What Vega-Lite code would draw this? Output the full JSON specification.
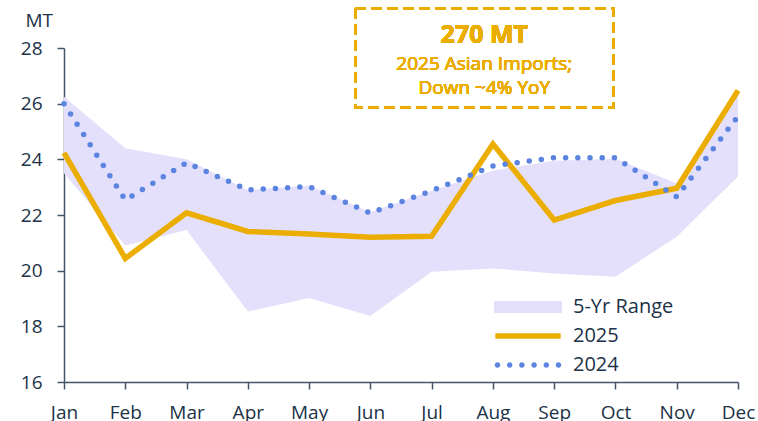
{
  "$schema": "https://vega.github.io/schema/vega-lite/v6.json",
  "autosize": "none",
  "width": 674,
  "height": 334,
  "padding": {"left": 64, "top": 48, "right": 20, "bottom": 39},
  "background": "white",
  "config": {
    "view": {"stroke": null},
    "font": "Open Sans",
    "axis": {
      "grid": false,
      "domainColor": "#44546A",
      "tickColor": "#44546A",
      "domainWidth": 1.5,
      "tickWidth": 1.5,
      "tickSize": 7,
      "labelFont": "Open Sans",
      "labelFontSize": 19,
      "labelColor": "#203247",
      "titleFont": "Open Sans",
      "titleColor": "#203247"
    },
    "legend": {
      "labelFont": "Open Sans",
      "labelFontSize": 20,
      "labelColor": "#203247"
    }
  },
  "data": {
    "values": [
      {"m": 1, "lo": 23.5, "hi": 26.25, "y2025": 24.23, "y2024": 26.0},
      {"m": 2, "lo": 20.9, "hi": 24.4, "y2025": 20.44, "y2024": 22.54},
      {"m": 3, "lo": 21.46, "hi": 24.0, "y2025": 22.08, "y2024": 23.88},
      {"m": 4, "lo": 18.53, "hi": 22.9, "y2025": 21.41, "y2024": 22.9},
      {"m": 5, "lo": 19.02, "hi": 23.05, "y2025": 21.32, "y2024": 23.02},
      {"m": 6, "lo": 18.37, "hi": 22.1, "y2025": 21.2, "y2024": 22.07},
      {"m": 7, "lo": 19.96, "hi": 22.87, "y2025": 21.24, "y2024": 22.87},
      {"m": 8, "lo": 20.08, "hi": 23.6, "y2025": 24.55, "y2024": 23.76},
      {"m": 9, "lo": 19.9, "hi": 23.95, "y2025": 21.82, "y2024": 24.06},
      {"m": 10, "lo": 19.78, "hi": 24.02, "y2025": 22.52, "y2024": 24.06},
      {"m": 11, "lo": 21.22, "hi": 23.14, "y2025": 22.96, "y2024": 22.65},
      {"m": 12, "lo": 23.38, "hi": 26.47, "y2025": 26.47, "y2024": 25.55}
    ]
  },
  "encoding": {
    "x": {
      "field": "m",
      "type": "quantitative",
      "scale": {"domain": [1, 12], "nice": false, "zero": false},
      "axis": {
        "title": null,
        "values": [1, 2, 3, 4, 5, 6, 7, 8, 9, 10, 11, 12],
        "labelExpr": "['Jan','Feb','Mar','Apr','May','Jun','Jul','Aug','Sep','Oct','Nov','Dec'][datum.value - 1]",
        "labelPadding": 14,
        "labelFlush": false,
        "labelOverlap": false
      }
    }
  },
  "layer": [
    {
      "mark": {"type": "area", "opacity": 1},
      "encoding": {
        "y": {
          "field": "lo",
          "type": "quantitative",
          "scale": {"domain": [16, 28], "nice": false, "zero": false},
          "axis": {
            "values": [16, 18, 20, 22, 24, 26, 28],
            "title": "MT",
            "titleAngle": 0,
            "titleAlign": "left",
            "titleBaseline": "alphabetic",
            "titleX": -39,
            "titleY": -22,
            "titleFontSize": 19,
            "titleFontWeight": "normal",
            "labelPadding": 15
          }
        },
        "y2": {"field": "hi"},
        "color": {
          "datum": "5-Yr Range",
          "type": "nominal",
          "scale": {
            "domain": ["5-Yr Range", "2025", "2024"],
            "range": ["#E4E0FC", "#EAAD00", "#5B84E0"]
          },
          "legend": {
            "title": null,
            "orient": "none",
            "legendX": 454,
            "legendY": 249,
            "symbolSize": 185,
            "labelOffset": 35,
            "rowPadding": 8,
            "symbolType": {"expr": "datum.value === '5-Yr Range' ? 'M-5,-0.9L5,-0.9L5,0.9L-5,0.9Z' : (datum.value === '2025' ? 'M-4.8,0L4.8,0' : 'M-4.889,0a0.404,0.404 0 1,0 0.808,0a0.404,0.404 0 1,0 -0.808,0M-3.095,0a0.404,0.404 0 1,0 0.808,0a0.404,0.404 0 1,0 -0.808,0M-1.301,0a0.404,0.404 0 1,0 0.808,0a0.404,0.404 0 1,0 -0.808,0M0.493,0a0.404,0.404 0 1,0 0.808,0a0.404,0.404 0 1,0 -0.808,0M2.287,0a0.404,0.404 0 1,0 0.808,0a0.404,0.404 0 1,0 -0.808,0M4.081,0a0.404,0.404 0 1,0 0.808,0a0.404,0.404 0 1,0 -0.808,0')"},
            "symbolStrokeWidth": {"expr": "datum.value === '2025' ? 5.5 : 0"},
            "encode": {
              "symbols": {
                "stroke": {"value": {"expr": "datum.value === '2025' ? '#EAAD00' : 'transparent'"}},
                "fillOpacity": {"value": {"expr": "datum.value === '2025' ? 0 : 1"}}
              }
            }
          }
        }
      }
    },
    {
      "mark": {"type": "line", "strokeWidth": 5.5, "strokeJoin": "miter", "strokeCap": "butt"},
      "encoding": {
        "y": {"field": "y2025", "type": "quantitative"},
        "color": {"datum": "2025", "type": "nominal", "legend": null}
      }
    },
    {
      "mark": {"type": "line", "strokeWidth": 5.5, "strokeDash": [0, 12.2], "strokeCap": "round"},
      "encoding": {
        "y": {"field": "y2024", "type": "quantitative"},
        "color": {"datum": "2024", "type": "nominal", "legend": null}
      }
    },
    {
      "mark": {"type": "rect", "fill": "white", "fillOpacity": 0, "stroke": "#EAAD00", "strokeWidth": 2.5, "strokeDash": [10, 6]},
      "encoding": {
        "x": {"datum": 5.76, "type": "quantitative"},
        "x2": {"datum": 9.97},
        "y": {"datum": 29.43, "type": "quantitative"},
        "y2": {"datum": 25.87}
      }
    },
    {
      "mark": {"type": "text", "font": "Open Sans", "fontSize": 25, "fontWeight": "bold", "color": "#EAAD00", "align": "center", "baseline": "alphabetic"},
      "encoding": {
        "x": {"datum": 7.86, "type": "quantitative"},
        "y": {"datum": 28.19, "type": "quantitative"},
        "text": {"value": "270 MT"}
      }
    },
    {
      "mark": {"type": "text", "font": "Open Sans", "fontSize": 19, "color": "#EAAD00", "align": "center", "baseline": "alphabetic", "lineHeight": 24},
      "encoding": {
        "x": {"datum": 7.86, "type": "quantitative"},
        "y": {"datum": 27.21, "type": "quantitative"},
        "text": {"value": ["2025 Asian Imports;", "Down ~4% YoY"]}
      }
    }
  ]
}
